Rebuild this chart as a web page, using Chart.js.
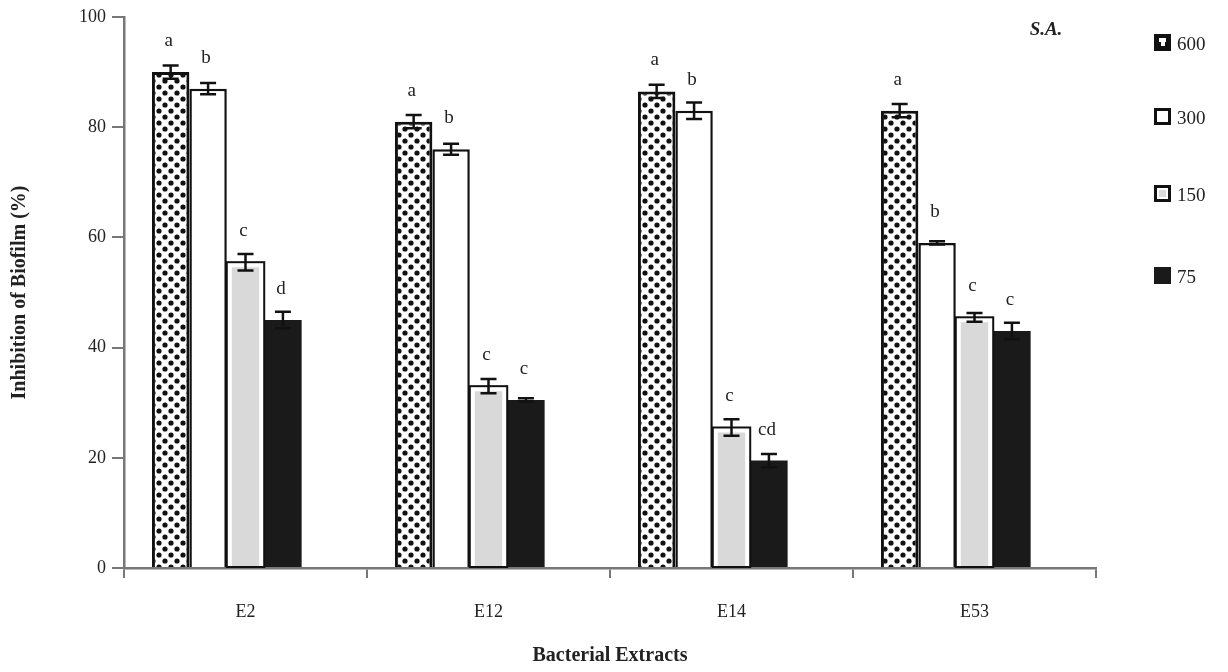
<!DOCTYPE html>
<html>
<head>
<meta charset="utf-8">
<script src="https://cdn.jsdelivr.net/npm/chart.js@4"></script>
<style>
  html, body { margin: 0; padding: 0; background: #fff; }
  #wrap { width: 1228px; height: 672px; }
</style>
</head>
<body>
<div id="wrap"><canvas id="biofilm"></canvas></div>
<script>
// values
const extracts = ['E2', 'E12', 'E14', 'E53'];
const doses = ['600', '300', '150', '75'];
const inhib600 = [90, 81, 86.5, 83];
const inhib300 = [87, 76, 83, 59];
const inhib150 = [55.5, 33, 25.5, 45.5];
const inhib75 = [45, 30.5, 19.5, 43];
const err600 = [1.2, 1.2, 1.2, 1.2];
const err300 = [1, 1, 1.5, 0.3];
const err150 = [1.5, 1.3, 1.5, 0.8];
const err75 = [1.5, 0.3, 1.2, 1.5];
const letters600 = ['a', 'a', 'a', 'a'];
const letters300 = ['b', 'b', 'b', 'b'];
const letters150 = ['c', 'c', 'c', 'c'];
const letters75 = ['d', 'c', 'cd', 'c'];
const yTicks = [0, 20, 40, 60, 80, 100];

const serif = "'Liberation Serif', 'DejaVu Serif', serif";
const values = [inhib600, inhib300, inhib150, inhib75];
const errors = [err600, err300, err150, err75];
const letters = [letters600, letters300, letters150, letters75];

function dotPattern(ctx) {
    let c = document.createElement('canvas');
    c.width = 12; c.height = 12;
    let p = c.getContext('2d');
    p.fillStyle = '#fff';
    p.fillRect(0, 0, 12, 12);
    p.fillStyle = '#111';
    [[3, 3], [9, 9], [9, 3]].forEach(([x, y], k) => {
        p.beginPath(); p.arc(x, y, k === 2 ? 0 : 2.6, 0, Math.PI * 2); p.fill();
    });
    return ctx.createPattern(c, 'repeat');
}

const canvas = document.getElementById('biofilm');
const dots = dotPattern(canvas.getContext('2d'));

const annotations = {
    id: 'annotations',
    afterDatasetsDraw(chart) {
        const ctx = chart.ctx;
        const y = chart.scales.y;
        ctx.save();
        // black outline round the 150 bars (white inner ring comes from the border)
        ctx.strokeStyle = '#111';
        ctx.lineWidth = 2;
        chart.getDatasetMeta(2).data.forEach(bar => {
            const p = bar.getProps(['x', 'y', 'base', 'width'], true);
            ctx.strokeRect(p.x - p.width / 2, p.y, p.width, p.base - p.y);
        });
        // error bars and letters
        for (let i = 0; i < 4; i++) {
            chart.getDatasetMeta(i).data.forEach((bar, j) => {
                const x = bar.x;
                const top = y.getPixelForValue(values[i][j] + errors[i][j]);
                const bot = y.getPixelForValue(values[i][j] - errors[i][j]);
                ctx.strokeStyle = '#111';
                ctx.lineWidth = 2.5;
                ctx.beginPath();
                ctx.moveTo(x, top); ctx.lineTo(x, bot);
                ctx.moveTo(x - 8, top); ctx.lineTo(x + 8, top);
                ctx.moveTo(x - 8, bot); ctx.lineTo(x + 8, bot);
                ctx.stroke();
                ctx.fillStyle = '#222';
                ctx.font = '19px ' + serif;
                ctx.textAlign = 'center';
                ctx.textBaseline = 'middle';
                ctx.fillText(letters[i][j], x - 2, y.getPixelForValue(values[i][j]) - 31);
            });
        }
        ctx.restore();
    },
    afterDraw(chart) {
        const ctx = chart.ctx;
        ctx.save();
        ctx.fillStyle = '#222';
        ctx.font = 'italic bold 19px ' + serif;
        ctx.textAlign = 'center';
        ctx.textBaseline = 'middle';
        ctx.fillText('S.A.', 1046, 30);
        const ys = [43, 117, 194, 276];
        doses.forEach((d, i) => {
            const s = 17, bx = 1154, by = ys[i] - 9;
            if (i === 0) {
                ctx.fillStyle = '#111'; ctx.fillRect(bx, by, s, s);
                ctx.fillStyle = '#fff'; ctx.fillRect(bx + 5, by + 4, 7, 4); ctx.fillRect(bx + 7, by + 8, 4, 4);
            } else if (i === 1) {
                ctx.fillStyle = '#fff'; ctx.fillRect(bx, by, s, s);
                ctx.strokeStyle = '#111'; ctx.lineWidth = 3; ctx.strokeRect(bx + 1.5, by + 1.5, s - 3, s - 3);
            } else if (i === 2) {
                ctx.fillStyle = '#fff'; ctx.fillRect(bx, by, s, s);
                ctx.strokeStyle = '#111'; ctx.lineWidth = 3; ctx.strokeRect(bx + 1.5, by + 1.5, s - 3, s - 3);
                ctx.fillStyle = '#d9d9d9'; ctx.fillRect(bx + 5, by + 5, s - 10, s - 10);
            } else {
                ctx.fillStyle = '#1a1a1a'; ctx.fillRect(bx, by, s, s);
            }
            ctx.fillStyle = '#222';
            ctx.font = '19px ' + serif;
            ctx.textAlign = 'left';
            ctx.fillText(d, 1177, ys[i] + 2);
        });
        ctx.restore();
    }
};

new Chart(canvas, {
    type: 'bar',
    data: {
        labels: extracts,
        datasets: [
            {label: doses[0], data: inhib600, backgroundColor: dots, borderColor: '#111', borderWidth: 3},
            {label: doses[1], data: inhib300, backgroundColor: '#fff', borderColor: '#111', borderWidth: 2.5},
            {label: doses[2], data: inhib150, backgroundColor: '#d9d9d9', borderColor: '#fff', borderWidth: 5},
            {label: doses[3], data: inhib75, backgroundColor: '#1a1a1a', borderWidth: 0},
            // empty slot: the original groups sit left of the category centre
            {label: '', data: [null, null, null, null], backgroundColor: 'rgba(0,0,0,0)'}
        ]
    },
    options: {
        responsive: true,
        maintainAspectRatio: false,
        animation: false,
        datasets: {bar: {categoryPercentage: 0.77, barPercentage: 1}},
        layout: {padding: {left: 0, right: 132, top: 17, bottom: 0}},
        plugins: {legend: {display: false}, tooltip: {enabled: false}},
        scales: {
            x: {
                border: {color: '#777', width: 2.5},
                grid: {drawOnChartArea: false, tickLength: 10, color: '#777', lineWidth: 2},
                ticks: {color: '#222', font: {family: serif, size: 18}, padding: 23},
                title: {display: true, text: 'Bacterial Extracts', color: '#222',
                    font: {family: serif, size: 20, weight: 'bold'}, padding: {top: 0, bottom: 4}},
                afterFit(scale) { scale.height = 104; }
            },
            y: {
                min: 0, max: 100,
                border: {color: '#777', width: 2.5},
                grid: {drawOnChartArea: false, tickLength: 12, color: '#777', lineWidth: 2},
                afterBuildTicks(scale) { scale.ticks = yTicks.map(v => ({value: v})); },
                ticks: {color: '#222', font: {family: serif, size: 18}, padding: 6},
                title: {display: true, text: 'Inhibition of Biofilm (%)', color: '#222',
                    font: {family: serif, size: 20, weight: 'bold'}, padding: {top: 8, bottom: 0}},
                afterFit(scale) { scale.width = 124; }
            }
        }
    },
    plugins: [annotations]
});
</script>
</body>
</html>
